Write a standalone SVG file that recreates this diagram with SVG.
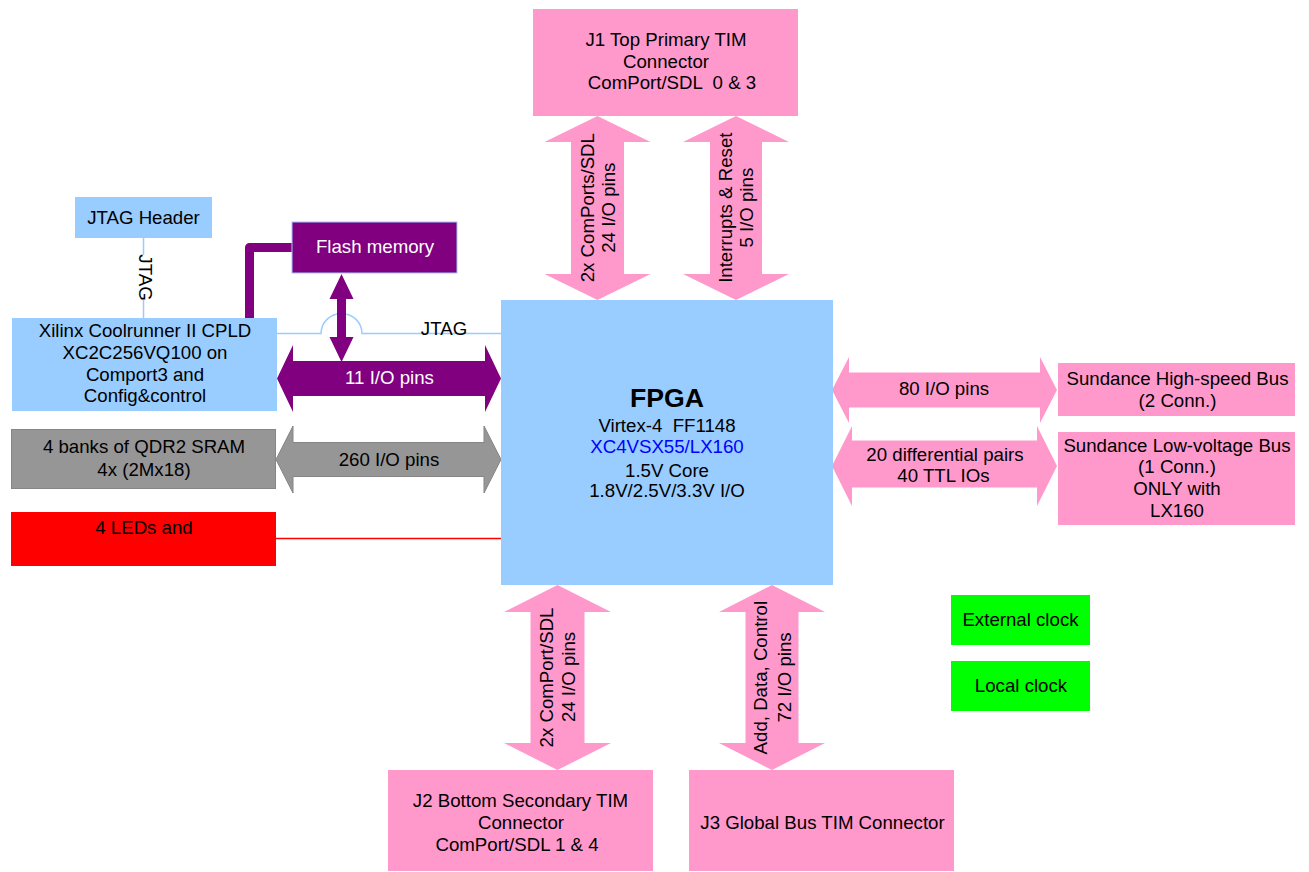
<svg xmlns="http://www.w3.org/2000/svg" width="1309" height="872" viewBox="0 0 1309 872">
<style>
.t{font-family:"Liberation Sans",Arial,sans-serif;font-size:18.67px;fill:#000;text-anchor:middle;white-space:pre}
.w{fill:#fff}
.bl{fill:#0000ff}
.big{font-size:26.67px;font-weight:bold}
.lb{fill:#99ccff}
.pk{fill:#ff99cc}
.pu{fill:#800080}
.gr{fill:#969696;stroke:#858585;stroke-width:1}
.rd{fill:#ff0000}
.gn{fill:#00ff00}
.ln{fill:none;stroke:#99ccff;stroke-width:1.5}
</style>
<rect width="1309" height="872" fill="#fff"/>
<g id="connectors">
<path class="ln" d="M143.5,238 V318"/>
<path class="ln" d="M277,333.5 H321 A20.5,20 0 0 1 362,333.5 H501"/>
<path d="M292,247.5 H249.5 V318" fill="none" stroke="#800080" stroke-width="9" stroke-linejoin="round"/>
<path d="M276,538.5 H501" stroke="#ff0000" stroke-width="1.5" fill="none"/>
<polygon class="pk" points="597.5,116 650.5,142 624,142 624,274 650.5,274 597.5,300 544.5,274 571,274 571,142 544.5,142"/>
<polygon class="pk" points="736,116 789,142 762,142 762,274 789,274 736,300 683,274 710,274 710,142 683,142"/>
<polygon class="pk" points="557.5,585 611,612 584.5,612 584.5,743 611,743 557.5,770 504,743 530.5,743 530.5,612 504,612"/>
<polygon class="pk" points="772,585 825,612 798.5,612 798.5,743 825,743 772,770 719,743 745.5,743 745.5,612 719,612"/>
<polygon class="pu" points="341.5,274 353.5,299 346,299 346,337 353.5,337 341.5,362 329.5,337 337,337 337,299 329.5,299"/>
<polygon class="pu" points="277,378.5 293,345 293,361 485,361 485,345 501,378.5 485,412 485,396 293,396 293,412"/>
<polygon class="gr" points="276,459.5 293,426 293,442.5 484,442.5 484,426 501,459.5 484,493 484,476.5 293,476.5 293,493"/>
<polygon class="pk" points="832,390 849,357 849,372.5 1040,372.5 1040,357 1057,390 1040,423 1040,407.5 849,407.5 849,423"/>
<polygon class="pk" points="832,466 852,426 852,440.5 1037,440.5 1037,426 1057,466 1037,506 1037,487.5 852,487.5 852,506"/>
<rect x="135" y="255" width="19" height="45" fill="#fff"/>
<text class="t" transform="translate(138.5,277.5) rotate(90)">JTAG</text>
<text class="t" x="444" y="335">JTAG</text>
<text class="t w" x="389.5" y="383.5">11 I/O pins</text>
<text class="t" x="389" y="465.5">260 I/O pins</text>
<text class="t" x="944" y="395">80 I/O pins</text>
<text class="t" x="945" y="460.5">20 differential pairs</text>
<text class="t" x="943.5" y="481.5">40 TTL IOs</text>
<text class="t" transform="translate(594,207.7) rotate(-90)">2x ComPorts/SDL</text>
<text class="t" transform="translate(614.5,207.7) rotate(-90)">24 I/O pins</text>
<text class="t" transform="translate(732,207.7) rotate(-90)">Interrupts &amp; Reset</text>
<text class="t" transform="translate(753,207.7) rotate(-90)">5 I/O pins</text>
<text class="t" transform="translate(553,677.5) rotate(-90)">2x ComPort/SDL</text>
<text class="t" transform="translate(575,677) rotate(-90)">24 I/O pins</text>
<text class="t" transform="translate(767,677.7) rotate(-90)">Add, Data, Control</text>
<text class="t" transform="translate(790.5,677.5) rotate(-90)">72 I/O pins</text>
</g>
<g id="fpga">
<rect class="lb" x="501" y="300" width="332" height="285"/>
<text class="t big" x="667" y="406.5">FPGA</text>
<text class="t" x="667" y="431.5">Virtex-4  FF1148</text>
<text class="t bl" x="667" y="452.5">XC4VSX55/LX160</text>
<text class="t" x="667" y="476.5">1.5V Core</text>
<text class="t" x="667" y="496.5">1.8V/2.5V/3.3V I/O</text>
</g>
<g id="j1">
<rect class="pk" x="533" y="9" width="265" height="107"/>
<text class="t" x="666" y="45.5">J1 Top Primary TIM</text>
<text class="t" x="666" y="67.5">Connector</text>
<text class="t" x="672" y="88.5">ComPort/SDL  0 &amp; 3</text>
</g>
<g id="jtag-header">
<rect class="lb" x="75" y="197" width="137" height="41"/>
<text class="t" x="143.5" y="224">JTAG Header</text>
</g>
<g id="flash">
<rect class="pu" x="292" y="222" width="165" height="51" stroke="#99ccff" stroke-width="1"/>
<text class="t w" x="375" y="253">Flash memory</text>
</g>
<g id="cpld">
<rect class="lb" x="12" y="318" width="265" height="93"/>
<text class="t" x="145" y="337">Xilinx Coolrunner II CPLD</text>
<text class="t" x="145" y="358.5">XC2C256VQ100 on</text>
<text class="t" x="145" y="380.5">Comport3 and</text>
<text class="t" x="145" y="402">Config&amp;control</text>
</g>
<g id="sram">
<rect class="gr" x="11.5" y="429.5" width="264" height="59"/>
<text class="t" x="144" y="452.5">4 banks of QDR2 SRAM</text>
<text class="t" x="144" y="475.5">4x (2Mx18)</text>
</g>
<g id="leds">
<rect class="rd" x="11" y="512" width="265" height="54"/>
<text class="t" x="144" y="533.5">4 LEDs and</text>
</g>
<g id="hs-bus">
<rect class="pk" x="1058" y="363" width="237" height="53"/>
<text class="t" x="1177.5" y="385">Sundance High-speed Bus</text>
<text class="t" x="1177.5" y="406.5">(2 Conn.)</text>
</g>
<g id="lv-bus">
<rect class="pk" x="1058" y="432" width="237" height="93"/>
<text class="t" x="1177" y="451.5">Sundance Low-voltage Bus</text>
<text class="t" x="1177" y="473.2">(1 Conn.)</text>
<text class="t" x="1177" y="495">ONLY with</text>
<text class="t" x="1177" y="516.7">LX160</text>
</g>
<g id="j2">
<rect class="pk" x="388" y="770" width="265" height="101"/>
<text class="t" x="520.5" y="806.5">J2 Bottom Secondary TIM</text>
<text class="t" x="521" y="828.5">Connector</text>
<text class="t" x="517" y="851">ComPort/SDL 1 &amp; 4</text>
</g>
<g id="j3">
<rect class="pk" x="689" y="770" width="265" height="101"/>
<text class="t" x="822.5" y="829">J3 Global Bus TIM Connector</text>
</g>
<g id="ext-clock">
<rect class="gn" x="951" y="595" width="139" height="50"/>
<text class="t" x="1020.5" y="625.5">External clock</text>
</g>
<g id="local-clock">
<rect class="gn" x="951" y="661" width="139" height="50"/>
<text class="t" x="1021" y="691.5">Local clock</text>
</g>
</svg>
